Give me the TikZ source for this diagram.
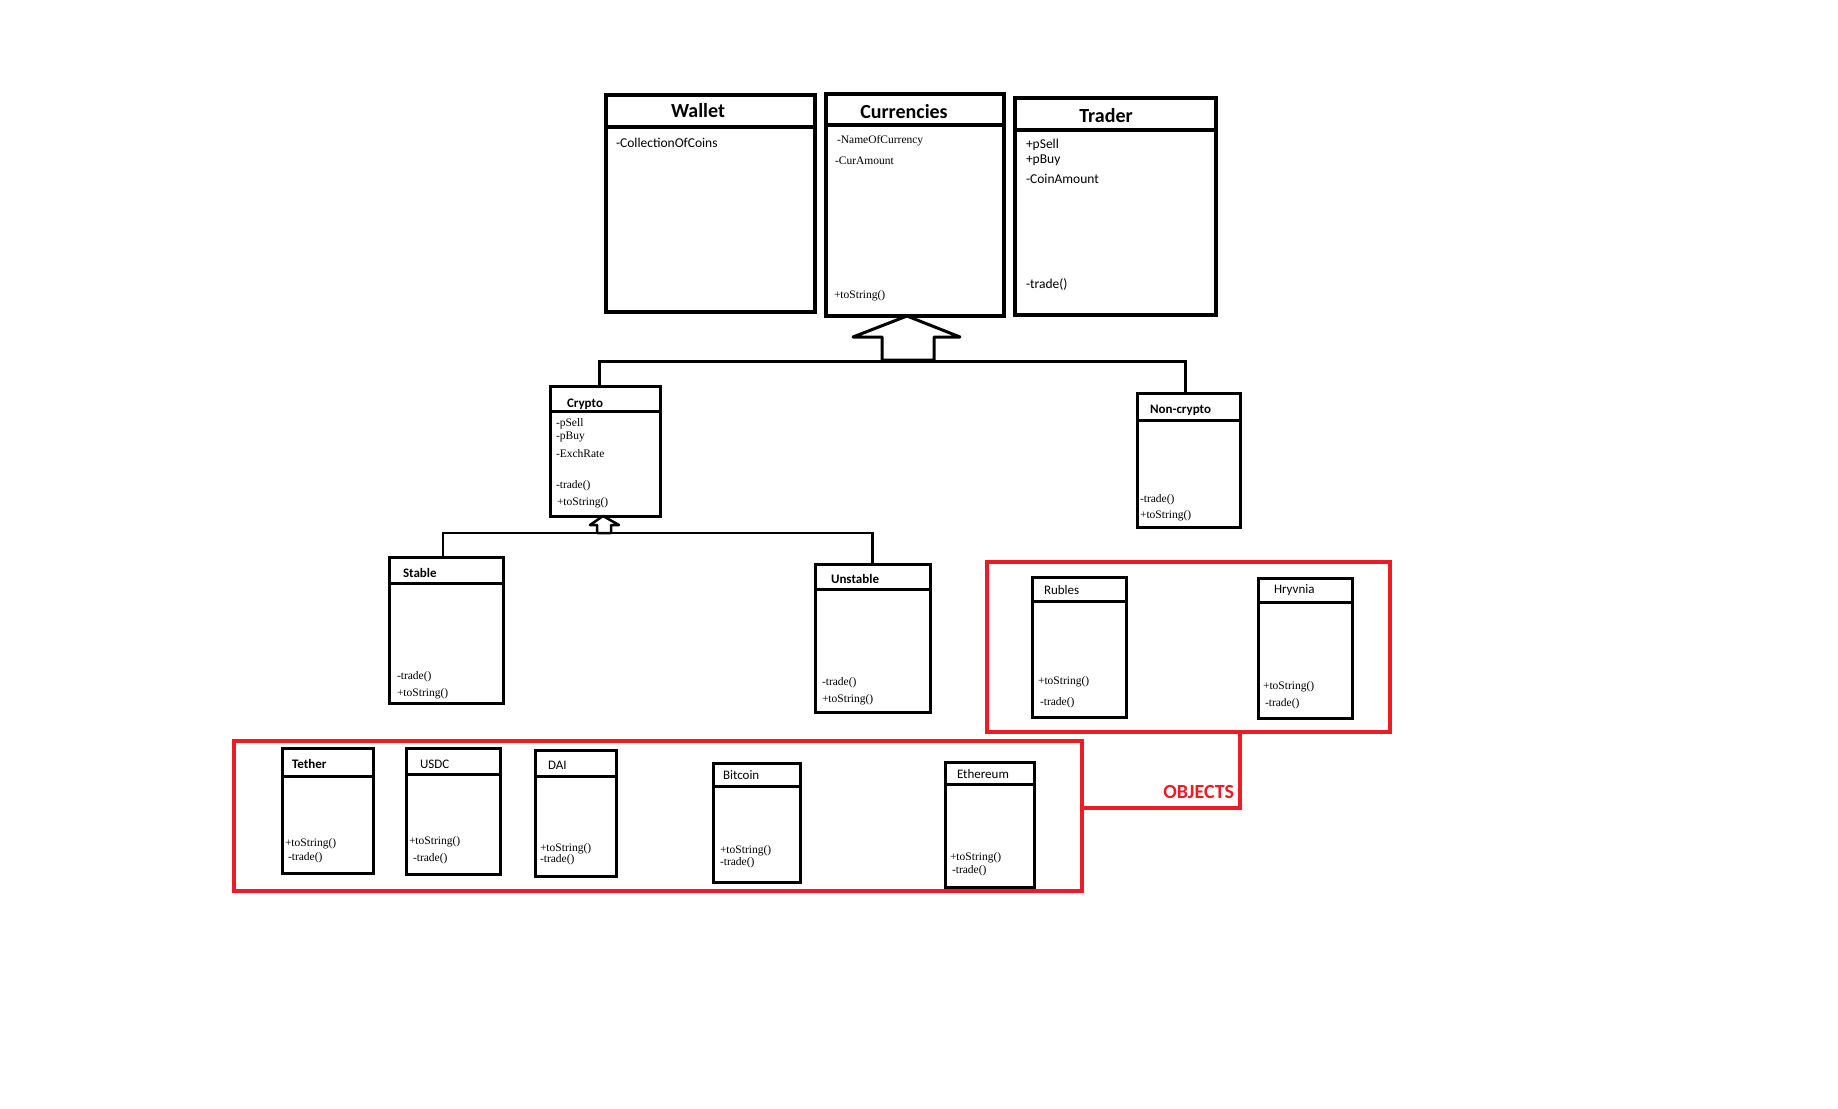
\documentclass[tikz,border=0pt]{standalone}
\usepackage{fontspec}
\setmainfont{Liberation Serif}
\newfontfamily\calibri{Carlito}
\definecolor{objred}{RGB}{237,28,36}

\begin{document}
\begin{tikzpicture}[x=1pt,y=-1pt]
\tikzstyle{every node}=[inner sep=0pt, outer sep=0pt]
\tikzstyle{bigumlbox}=[draw, line width=4pt, rectangle, anchor=north west]
\tikzstyle{umlbox}=[draw, line width=3pt, rectangle, anchor=north west]
\tikzstyle{bigname}=[font=\calibri\bfseries\fontsize{20}{20}\selectfont, anchor=base]
\tikzstyle{boldname}=[font=\calibri\bfseries\fontsize{13}{13}\selectfont, anchor=base west]
\tikzstyle{plainname}=[font=\calibri\fontsize{13}{13}\selectfont, anchor=base west]
\tikzstyle{sansattr}=[font=\calibri\fontsize{13.5}{13.5}\selectfont, anchor=base west]
\tikzstyle{attr}=[font=\fontsize{11.5}{11.5}\selectfont, anchor=base west]
\tikzstyle{redbox}=[draw=objred, line width=4.5pt, rectangle]
\useasboundingbox (0,0) rectangle (1838,1108);

% top row
\node (wallet) [bigumlbox, minimum width=209, minimum height=217] at (606,95) {};
\node (currencies) [bigumlbox, minimum width=178, minimum height=222] at (826,94) {};
\node (trader) [bigumlbox, minimum width=201, minimum height=217] at (1015,98) {};
\draw[line width=4pt] ([yshift=-32]wallet.north west) -- ([yshift=-32]wallet.north east);
\draw[line width=4pt] ([yshift=-31]currencies.north west) -- ([yshift=-31]currencies.north east);
\draw[line width=4pt] ([yshift=-32]trader.north west) -- ([yshift=-32]trader.north east);
\node (wt) [bigname] at (698,117) {Wallet};
\node (wa1) [sansattr] at (616,147) {-CollectionOfCoins};
\node (ct) [bigname] at (904,118) {Currencies};
\node (ca1) [attr] at (837,143) {-NameOfCurrency};
\node (ca2) [attr] at (835,164) {-CurAmount};
\node (ca3) [attr] at (834,298) {+toString()};
\node (tt) [bigname] at (1106,122) {Trader};
\node (ta1) [sansattr] at (1026,148) {+pSell};
\node (ta2) [sansattr] at (1026,163) {+pBuy};
\node (ta3) [sansattr] at (1026,183) {-CoinAmount};
\node (ta4) [sansattr] at (1026,288) {-trade()};

% second row
\node (crypto) [umlbox, minimum width=110, minimum height=130] at (550,386) {};
\node (noncrypto) [umlbox, minimum width=103, minimum height=134] at (1137,393) {};
\draw[line width=3pt] ([yshift=-25]crypto.north west) -- ([yshift=-25]crypto.north east);
\draw[line width=3pt] ([yshift=-27]noncrypto.north west) -- ([yshift=-27]noncrypto.north east);
\node (crt) [boldname] at (567,407) {Crypto};
\node (cra1) [attr] at (556,426) {-pSell};
\node (cra2) [attr] at (556,439) {-pBuy};
\node (cra3) [attr] at (556,457) {-ExchRate};
\node (cra4) [attr] at (556,488) {-trade()};
\node (cra5) [attr] at (557,505) {+toString()};
\node (nct) [boldname] at (1150,413) {Non-crypto};
\node (nca1) [attr] at (1140,502) {-trade()};
\node (nca2) [attr] at (1140,518) {+toString()};

% third row
\node (stable) [umlbox, minimum width=114, minimum height=146] at (389,557) {};
\node (unstable) [umlbox, minimum width=115, minimum height=148] at (815,564) {};
\node (rubles) [umlbox, minimum width=94, minimum height=140] at (1032,577) {};
\node (hryvnia) [umlbox, minimum width=94, minimum height=140] at (1258,578) {};
\draw[line width=3pt] ([yshift=-26]stable.north west) -- ([yshift=-26]stable.north east);
\draw[line width=3pt] ([yshift=-25]unstable.north west) -- ([yshift=-25]unstable.north east);
\draw[line width=3pt] ([yshift=-24]rubles.north west) -- ([yshift=-24]rubles.north east);
\draw[line width=3pt] ([yshift=-24]hryvnia.north west) -- ([yshift=-24]hryvnia.north east);
\node (st) [boldname] at (403,577) {Stable};
\node (sa1) [attr] at (397,679) {-trade()};
\node (sa2) [attr] at (397,696) {+toString()};
\node (ut) [boldname] at (831,583) {Unstable};
\node (ua1) [attr] at (822,685) {-trade()};
\node (ua2) [attr] at (822,702) {+toString()};
\node (rt) [plainname] at (1044,594) {Rubles};
\node (ra1) [attr] at (1038,684) {+toString()};
\node (ra2) [attr] at (1040,705) {-trade()};
\node (ht) [plainname] at (1274,593) {Hryvnia};
\node (ha1) [attr] at (1263,689) {+toString()};
\node (ha2) [attr] at (1265,706) {-trade()};

% bottom row
\node (tether) [umlbox, minimum width=91, minimum height=125] at (282,748) {};
\node (usdc) [umlbox, minimum width=94, minimum height=126] at (406,748) {};
\node (dai) [umlbox, minimum width=81, minimum height=126] at (535,750) {};
\node (bitcoin) [umlbox, minimum width=87, minimum height=119] at (713,763) {};
\node (ethereum) [umlbox, minimum width=89, minimum height=125] at (945,762) {};
\draw[line width=3pt] ([yshift=-28]tether.north west) -- ([yshift=-28]tether.north east);
\draw[line width=3pt] ([yshift=-26]usdc.north west) -- ([yshift=-26]usdc.north east);
\draw[line width=3pt] ([yshift=-26]dai.north west) -- ([yshift=-26]dai.north east);
\draw[line width=3pt] ([yshift=-23]bitcoin.north west) -- ([yshift=-23]bitcoin.north east);
\draw[line width=3pt] ([yshift=-22]ethereum.north west) -- ([yshift=-22]ethereum.north east);
\node (tet) [boldname] at (292,768) {Tether};
\node (tea1) [attr] at (285,846) {+toString()};
\node (tea2) [attr] at (288,860) {-trade()};
\node (ust) [plainname] at (420,768) {USDC};
\node (usa1) [attr] at (409,844) {+toString()};
\node (usa2) [attr] at (413,861) {-trade()};
\node (dt) [plainname] at (548,769) {DAI};
\node (da1) [attr] at (540,851) {+toString()};
\node (da2) [attr] at (540,862) {-trade()};
\node (bt) [plainname] at (723,779) {Bitcoin};
\node (ba1) [attr] at (720,853) {+toString()};
\node (ba2) [attr] at (720,865) {-trade()};
\node (et) [plainname] at (957,778) {Ethereum};
\node (ea1) [attr] at (950,860) {+toString()};
\node (ea2) [attr] at (952,873) {-trade()};

% inheritance
\coordinate (bigbar) at (907,361);
\coordinate (smallbar) at (605,533);
\draw[line width=3pt] ([xshift=-6]crypto.north) |- (bigbar) -| ([xshift=-3]noncrypto.north);
\draw[line width=3pt, line join=round] ([xshift=-8]currencies.south) -- ++(-54,21) -- ++(29,0) -- ++(0,23)
  -- ++(52,0) -- ++(0,-23) -- ++(26,0) -- cycle;
\draw[line width=2.5pt] ([xshift=-3]stable.north) |- (smallbar) -| (unstable.north);
\draw[line width=2.5pt, line join=round] ([xshift=-2]crypto.south) -- ++(-13,9) -- ++(7,0) -- ++(0,8)
  -- ++(14,0) -- ++(0,-8) -- ++(8,0) -- cycle;

% objects
\node (objlow) [redbox, minimum width=848, minimum height=150] at (658,816) {};
\node (objup) [redbox, minimum width=403, minimum height=170] at (1188.5,647) {};
\coordinate (objcorner) at (1240,808);
\draw[objred, line width=4.5pt] (objup.south -| objcorner) -- (objcorner) -- (objlow.east |- objcorner);
\node (objtext) [font=\calibri\bfseries\fontsize{20}{20}\selectfont, text=objred, anchor=base east] at (1234,798) {OBJECTS};
\end{tikzpicture}
\end{document}
